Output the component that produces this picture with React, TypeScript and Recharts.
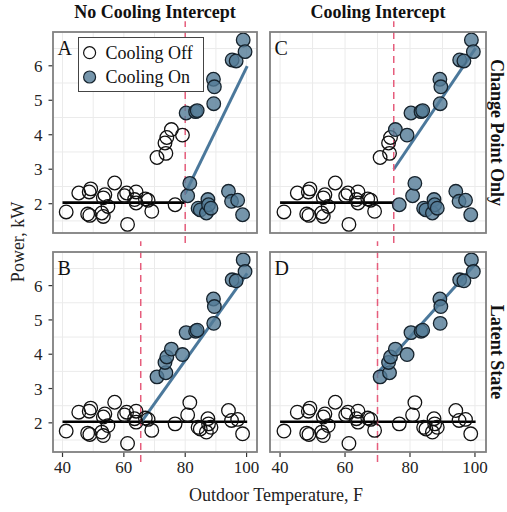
import React from 'react';
import {
  ComposedChart,
  Scatter,
  Line,
  XAxis,
  YAxis,
  CartesianGrid,
  ReferenceLine,
  Legend,
} from 'recharts';

// outdoor temperature (F) and whole-home power (kW), one entry per observation
const temperature = [
  41.2, 45.3, 48.2, 48.7, 49.2, 48.9, 53.3, 52.8, 53.8, 53.3, 54.8, 57.0, 60.2, 60.9, 61.2, 64.0, 63.5,
  64.0, 67.0, 67.9, 69.1, 76.7, 80.8, 81.5, 84.2, 84.9, 86.9, 87.4, 87.6, 88.4, 94.1, 95.1, 97.1, 98.7,
  70.8, 73.7, 73.4, 74.0, 75.5, 79.1, 80.3, 83.4, 83.9, 89.2, 89.5, 89.3, 95.3, 96.6, 98.9, 99.5,
];
const power = [
  1.76, 2.31, 1.7, 2.34, 2.43, 1.66, 1.63, 1.73, 2.26, 2.17, 1.92, 2.6, 2.23, 2.31, 1.4, 2.34, 2.12,
  2.02, 2.14, 2.1, 1.78, 1.97, 2.23, 2.59, 1.87, 1.82, 1.73, 2.12, 1.97, 1.87, 2.36, 2.07, 2.1, 1.68,
  3.34, 3.46, 3.76, 3.92, 4.15, 3.99, 4.63, 4.67, 4.7, 5.61, 5.39, 4.9, 6.17, 6.14, 6.75, 6.41,
];
// cooling state inferred by the latent state model (1 = on)
const latentCooling = [
  0, 0, 0, 0, 0, 0, 0, 0, 0, 0, 0, 0, 0, 0, 0, 0, 0, 0, 0, 0, 0, 0, 0, 0, 0, 0, 0, 0, 0, 0, 0, 0, 0, 0,
  1, 1, 1, 1, 1, 1, 1, 1, 1, 1, 1, 1, 1, 1, 1, 1,
];

const panelIds = ['A', 'B', 'C', 'D'];
const modelIsLatent = [false, true, false, true];
const changePoint = [80, 65.5, 75, 70];
const baseLines = [
  [{ t: 40, p: 2.03 }, { t: 80, p: 2.03 }],
  [{ t: 40, p: 2.03 }, { t: 100.2, p: 2.03 }],
  [{ t: 40, p: 2.03 }, { t: 75, p: 2.03 }],
  [{ t: 40, p: 2.03 }, { t: 100.2, p: 2.03 }],
];
const coolingLines = [
  [{ t: 80, p: 2.3 }, { t: 100.2, p: 5.99 }],
  [{ t: 65.5, p: 2.0 }, { t: 100.2, p: 6.36 }],
  [{ t: 75, p: 3.0 }, { t: 100.2, p: 6.51 }],
  [{ t: 70, p: 3.45 }, { t: 100.2, p: 6.64 }],
];

const xTicks = [40, 60, 80, 100];
const yTicks = [2, 3, 4, 5, 6];
const xGrid = [40, 50, 60, 70, 80, 90, 100];
const yGrid = [1.5, 2, 2.5, 3, 3.5, 4, 4.5, 5, 5.5, 6, 6.5];

const X_DOMAIN = [36.9, 103.4];
const Y_DOMAIN = [1.15, 6.98];
const SERIF = '"Liberation Serif", "Times New Roman", serif';
const BLUE_FILL = '#537a96';
const BLUE_LINE = '#4b789b';

// plot rectangles in page pixels
const boxes = [
  { x: 53, y: 32, w: 204, h: 201, showX: false, showY: true },
  { x: 53, y: 252, w: 204, h: 200, showX: true, showY: true },
  { x: 270, y: 32, w: 216, h: 201, showX: false, showY: false },
  { x: 270, y: 252, w: 216, h: 200, showX: true, showY: false },
];

const OpenDot = (props: any) => (
  <circle cx={props.cx} cy={props.cy} r={6.8} fill="none" stroke="#111" strokeWidth={1.3} />
);
const FilledDot = (props: any) => (
  <circle
    cx={props.cx}
    cy={props.cy}
    r={6.8}
    fill={BLUE_FILL}
    fillOpacity={0.8}
    stroke="#16232d"
    strokeWidth={1.3}
  />
);

const LegendBox = () => (
  <svg width={127} height={56} style={{ display: 'block' }}>
    <rect x={0.5} y={0.5} width={125} height={54} fill="#fff" stroke="#444" strokeWidth={1} />
    <circle cx={11.6} cy={15.7} r={6} fill="none" stroke="#111" strokeWidth={1.2} />
    <circle cx={11.6} cy={40} r={6} fill={BLUE_FILL} fillOpacity={0.8} stroke="#16232d" strokeWidth={1.2} />
    <text x={27.5} y={21.5} fontSize={18} fontFamily={SERIF} fill="#111">
      Cooling Off
    </text>
    <text x={27.5} y={46} fontSize={18} fontFamily={SERIF} fill="#111">
      Cooling On
    </text>
  </svg>
);

function Panel({ idx }: { idx: number }) {
  const box = boxes[idx];
  const L = 50;
  const T = 12;
  const R = 10;
  const B = 30;
  const rows = temperature.map((t, i) => ({
    t,
    p: power[i],
    on: modelIsLatent[idx] ? latentCooling[i] === 1 : t > changePoint[idx],
  }));
  const off = rows.filter((r) => !r.on);
  const on = rows.filter((r) => r.on);
  const cp = changePoint[idx];

  return (
    <div style={{ position: 'absolute', left: box.x - L, top: box.y - T }}>
      <ComposedChart
        width={box.w + L + R}
        height={box.h + T + B}
        margin={{ top: T, right: R, bottom: box.showX ? 0 : B, left: box.showY ? 0 : L }}
      >
        <CartesianGrid stroke="#ebebeb" strokeWidth={1} verticalValues={xGrid} horizontalValues={yGrid} />
        <XAxis
          type="number"
          dataKey="t"
          domain={X_DOMAIN}
          ticks={xTicks}
          allowDataOverflow
          hide={!box.showX}
          height={B}
          axisLine={false}
          tickLine={{ stroke: '#333', strokeWidth: 1.2 }}
          tickSize={5}
          tickMargin={4}
          tick={{ fill: '#222', fontSize: 17, fontFamily: SERIF }}
        />
        <YAxis
          type="number"
          dataKey="p"
          domain={Y_DOMAIN}
          ticks={yTicks}
          allowDataOverflow
          hide={!box.showY}
          width={L}
          axisLine={false}
          tickLine={{ stroke: '#333', strokeWidth: 1.2 }}
          tickSize={4.5}
          tickMargin={6}
          tick={{ fill: '#222', fontSize: 17, fontFamily: SERIF }}
        />
        <Scatter data={off} shape={OpenDot} isAnimationActive={false} />
        <Scatter data={on} shape={FilledDot} isAnimationActive={false} />
        <Line
          data={baseLines[idx]}
          dataKey="p"
          type="linear"
          stroke="#000"
          strokeWidth={2.6}
          dot={false}
          activeDot={false}
          isAnimationActive={false}
        />
        <Line
          data={coolingLines[idx]}
          dataKey="p"
          type="linear"
          stroke={BLUE_LINE}
          strokeWidth={3}
          dot={false}
          activeDot={false}
          isAnimationActive={false}
        />
        <ReferenceLine
          segment={[
            { x: cp, y: 0.86 },
            { x: cp, y: 7.29 },
          ]}
          ifOverflow="visible"
          stroke="#e65d7c"
          strokeWidth={1.5}
          strokeDasharray="7 5"
        />
        {idx === 0 && (
          <Legend
            layout="vertical"
            align="center"
            verticalAlign="middle"
            content={() => <LegendBox />}
            wrapperStyle={{ left: 74.7, top: 17, width: 127, height: 56 }}
          />
        )}
      </ComposedChart>
    </div>
  );
}

export default function App() {
  return (
    <div
      style={{
        position: 'absolute',
        left: 0,
        top: 0,
        width: 507,
        height: 512,
        background: '#fff',
        overflow: 'hidden',
      }}
    >
      {panelIds.map((id, i) => (
        <Panel key={id} idx={i} />
      ))}
      <svg
        width={507}
        height={512}
        style={{ position: 'absolute', left: 0, top: 0, pointerEvents: 'none' }}
        fontFamily={SERIF}
      >
        {boxes.map((b, i) => (
          <g key={panelIds[i]}>
            <rect x={b.x} y={b.y} width={b.w} height={b.h} fill="none" stroke="#808080" strokeWidth={1.8} />
            <text x={b.x + 4.5} y={b.y + 23} fontSize={20} fill="#111">
              {panelIds[i]}
            </text>
          </g>
        ))}
        <text x={155} y={17.5} fontSize={18} fontWeight="bold" textAnchor="middle" fill="#111">
          No Cooling Intercept
        </text>
        <text x={378} y={17.5} fontSize={18} fontWeight="bold" textAnchor="middle" fill="#111">
          Cooling Intercept
        </text>
        <text
          transform="translate(491,132.5) rotate(90)"
          fontSize={18}
          fontWeight="bold"
          textAnchor="middle"
          fill="#111"
        >
          Change Point Only
        </text>
        <text
          transform="translate(491,352) rotate(90)"
          fontSize={18}
          fontWeight="bold"
          textAnchor="middle"
          fill="#111"
        >
          Latent State
        </text>
        <text transform="translate(24,242) rotate(-90)" fontSize={18} textAnchor="middle" fill="#222">
          Power, kW
        </text>
        <text x={276} y={501} fontSize={18} textAnchor="middle" fill="#222">
          Outdoor Temperature, F
        </text>
      </svg>
    </div>
  );
}
